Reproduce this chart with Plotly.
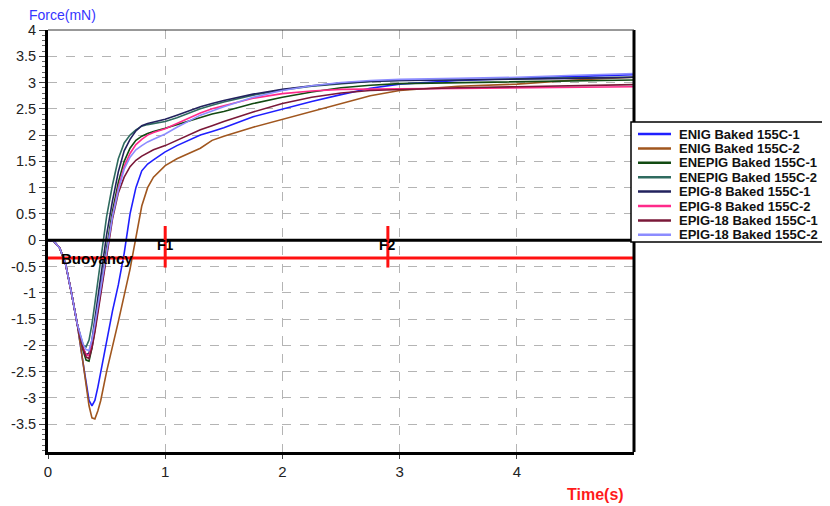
import plotly.graph_objects as go

# ---------------- data ----------------
T = [0, 0.05, 0.1, 0.15, 0.2, 0.25, 0.3, 0.325, 0.35, 0.375, 0.4, 0.425, 0.45,
     0.5, 0.55, 0.6, 0.65, 0.7, 0.75, 0.8, 0.85, 0.9, 1.0, 1.1, 1.2, 1.3, 1.4,
     1.5, 1.75, 2.0, 2.25, 2.5, 2.75, 3.0, 3.5, 4.0, 4.5, 5.0]

enig_1 = [0, -0.02, -0.15, -0.45, -1.0, -1.6, -2.35, -2.75, -3.05, -3.15, -3.05, -2.8, -2.5,
          -1.9, -1.35, -0.85, -0.25, 0.5, 1.0, 1.32, 1.45, 1.53, 1.68, 1.8, 1.9, 2.0, 2.07,
          2.14, 2.35, 2.5, 2.64, 2.77, 2.89, 2.97, 3.04, 3.08, 3.12, 3.15]
enig_2 = [0, -0.02, -0.15, -0.45, -1.0, -1.6, -2.35, -2.8, -3.15, -3.38, -3.4, -3.25, -3.05,
          -2.5, -2.05, -1.55, -1.05, -0.55, 0.05, 0.65, 1.0, 1.2, 1.42, 1.55, 1.65, 1.75, 1.9,
          1.98, 2.15, 2.3, 2.45, 2.6, 2.75, 2.85, 2.93, 2.97, 3.05, 3.1]
enepig_1 = [0, -0.02, -0.15, -0.45, -1.0, -1.6, -2.1, -2.28, -2.3, -2.05, -1.7, -1.3, -0.9,
            -0.15, 0.55, 1.1, 1.5, 1.75, 1.9, 1.98, 2.03, 2.07, 2.13, 2.2, 2.27, 2.34, 2.4,
            2.45, 2.6, 2.72, 2.82, 2.9, 2.95, 2.98, 3.0, 3.02, 3.04, 3.05]
enepig_2 = [0, -0.02, -0.15, -0.45, -1.0, -1.6, -2.0, -2.03, -1.9, -1.6, -1.2, -0.8, -0.4,
            0.45, 1.05, 1.55, 1.85, 2.0, 2.1, 2.17, 2.2, 2.22, 2.26, 2.33, 2.42, 2.5, 2.57,
            2.63, 2.76, 2.86, 2.93, 2.98, 3.02, 3.04, 3.06, 3.08, 3.09, 3.1]
epig8_1 = [0, -0.02, -0.15, -0.45, -1.0, -1.6, -2.05, -2.18, -2.15, -1.9, -1.5, -1.1, -0.7,
           0.1, 0.75, 1.3, 1.7, 1.92, 2.08, 2.18, 2.22, 2.25, 2.3, 2.38, 2.46, 2.54, 2.6,
           2.66, 2.78, 2.87, 2.94, 2.99, 3.02, 3.04, 3.05, 3.06, 3.08, 3.1]
epig8_2 = [0, -0.02, -0.15, -0.45, -1.0, -1.6, -2.05, -2.18, -2.2, -2.0, -1.7, -1.35, -1.0,
           -0.25, 0.45, 1.0, 1.4, 1.65, 1.82, 1.92, 2.0, 2.05, 2.12, 2.22, 2.32, 2.42, 2.5,
           2.56, 2.7, 2.79, 2.84, 2.87, 2.88, 2.88, 2.89, 2.9, 2.91, 2.92]
epig18_1 = [0, -0.02, -0.15, -0.45, -1.0, -1.6, -2.08, -2.22, -2.25, -2.05, -1.75, -1.38, -1.0,
            -0.25, 0.4, 0.9, 1.2, 1.4, 1.52, 1.6, 1.66, 1.72, 1.8, 1.9, 2.0, 2.1, 2.18,
            2.26, 2.44, 2.6, 2.72, 2.8, 2.85, 2.87, 2.9, 2.92, 2.94, 2.96]
epig18_2 = [0, -0.02, -0.15, -0.45, -1.0, -1.6, -1.98, -2.08, -2.1, -1.9, -1.6, -1.25, -0.9,
            -0.2, 0.45, 0.95, 1.35, 1.58, 1.72, 1.8, 1.87, 1.92, 2.02, 2.15, 2.27, 2.38, 2.46,
            2.54, 2.72, 2.85, 2.94, 3.0, 3.04, 3.06, 3.08, 3.1, 3.14, 3.17]

names = ["ENIG Baked 155C-1", "ENIG Baked 155C-2", "ENEPIG Baked 155C-1", "ENEPIG Baked 155C-2",
         "EPIG-8 Baked 155C-1", "EPIG-8 Baked 155C-2", "EPIG-18 Baked 155C-1", "EPIG-18 Baked 155C-2"]
series = [enig_1, enig_2, enepig_1, enepig_2, epig8_1, epig8_2, epig18_1, epig18_2]
colors = ["#1f1fff", "#a0561e", "#124a12", "#2f6b5f", "#22225e", "#ff2a8a", "#7a1838", "#8c8cff"]

y_ticks = [4, 3.5, 3, 2.5, 2, 1.5, 1, 0.5, 0, -0.5, -1, -1.5, -2, -2.5, -3, -3.5]
y_labels = ["4", "3.5", "3", "2.5", "2", "1.5", "1", "0.5", "0", "-0.5", "-1", "-1.5",
            "-2", "-2.5", "-3", "-3.5"]
x_ticks = [0, 1, 2, 3, 4]
x_labels = ["0", "1", "2", "3", "4"]

BUOYANCY = -0.34
markers = [("F1", 1.0), ("F2", 2.9)]

X_MAX = 5.0
Y_MIN, Y_MAX = -4.03, 4.0

# ---------------- layout geometry (screen pixels; page body has an 8px margin) ----------------
OFF = 8
W, H = 830 - OFF, 506 - OFF
L, R, TOP, BOT = 48, 634, 30, 452   # plot area on screen


def px(xp):
    return (xp - L) / (R - L)


def py(yp):
    return (BOT - yp) / (BOT - TOP)


FONT = "Arial, Liberation Sans, sans-serif"

fig = go.Figure()
for nm, ys, c in zip(names, series, colors):
    fig.add_trace(go.Scatter(x=T, y=ys, name=nm, mode="lines",
                             line=dict(color=c, width=1.6), showlegend=False))

shapes = []
annotations = []

# zero line and buoyancy line (above traces)
shapes.append(dict(type="line", xref="x", yref="y", x0=0, x1=X_MAX, y0=0, y1=0,
                   line=dict(color="black", width=3), layer="above"))
shapes.append(dict(type="line", xref="x", yref="y", x0=0, x1=X_MAX, y0=BUOYANCY, y1=BUOYANCY,
                   line=dict(color="#ff1010", width=3), layer="above"))
annotations.append(dict(text="<b>Buoyancy</b>", xref="x", yref="y", x=0.09, y=BUOYANCY,
                        xanchor="left", yanchor="middle", showarrow=False,
                        font=dict(family=FONT, size=15, color="black")))
for lab, xv in markers:
    annotations.append(dict(text="<b>%s</b>" % lab, xref="x", yref="y", x=xv, y=-0.1,
                            xanchor="center", yanchor="middle", showarrow=False,
                            font=dict(family=FONT, size=14, color="black")))
    shapes.append(dict(type="line", xref="x", yref="y", x0=xv, x1=xv, y0=0.27, y1=-0.52,
                       line=dict(color="#ff1010", width=3), layer="above"))

# borders
shapes.append(dict(type="line", xref="paper", yref="paper", x0=1, x1=1, y0=0, y1=1,
                   line=dict(color="black", width=3), layer="above"))
shapes.append(dict(type="line", xref="paper", yref="paper", x0=0, x1=1, y0=1, y1=1,
                   line=dict(color="#333333", width=1), layer="above"))

# manual legend
lx0, lx1, ly0, ly1 = 631, 823, 122, 242
shapes.append(dict(type="rect", xref="paper", yref="paper", x0=px(lx0), x1=px(lx1),
                   y0=py(ly1), y1=py(ly0), line=dict(color="black", width=1.5),
                   fillcolor="white", layer="above"))
row0, step = 134, 14.4
for i, (nm, c) in enumerate(zip(names, colors)):
    yy = row0 + i * step
    shapes.append(dict(type="line", xref="paper", yref="paper", x0=px(638), x1=px(671),
                       y0=py(yy), y1=py(yy), line=dict(color=c, width=2.5), layer="above"))
    annotations.append(dict(text="<b>%s</b>" % nm, xref="paper", yref="paper",
                            x=px(677), y=py(yy), xanchor="left", yanchor="middle",
                            showarrow=False,
                            font=dict(family=FONT, size=13, color="#111111")))

# axis titles
annotations.append(dict(text="Force(mN)", xref="paper", yref="paper", x=px(27), y=py(15.5),
                        xanchor="left", yanchor="middle", showarrow=False,
                        font=dict(family=FONT, size=14, color="#3636ff")))
annotations.append(dict(text="<b>Time(s)</b>", xref="paper", yref="paper", x=px(626), y=py(494),
                        xanchor="right", yanchor="middle", showarrow=False,
                        font=dict(family=FONT, size=16, color="#ff1a1a")))

minor_y = [round(-4.0 + 0.1 * k, 2) for k in range(81)]

fig.update_layout(
    width=W, height=H,
    margin=dict(l=L - OFF, r=W - (R - OFF), t=TOP - OFF, b=H - (BOT - OFF), pad=0,
                autoexpand=False),
    plot_bgcolor="white", paper_bgcolor="white",
    shapes=shapes, annotations=annotations,
    font=dict(family=FONT, size=14, color="#222222"),
    xaxis=dict(range=[0, X_MAX], tickmode="array", tickvals=x_ticks, ticktext=x_labels,
               showgrid=True, gridcolor="#b4b4b4", griddash="dash", gridwidth=1,
               ticks="outside", ticklen=4, tickcolor="#444444", tickwidth=1,
               showline=True, linecolor="black", linewidth=3, zeroline=False,
               automargin=False,
               tickfont=dict(family=FONT, size=15, color="#222222")),
    yaxis=dict(range=[Y_MIN, Y_MAX], tickmode="array", tickvals=y_ticks, ticktext=y_labels,
               showgrid=True, gridcolor="#b4b4b4", griddash="dash", gridwidth=1,
               ticks="outside", ticklen=6, tickcolor="#444444", tickwidth=1,
               showline=True, linecolor="black", linewidth=3, zeroline=False,
               automargin=False,
               minor=dict(tickmode="array", tickvals=minor_y, ticks="outside", ticklen=3,
                          tickcolor="#666666", showgrid=False),
               tickfont=dict(family=FONT, size=14.5, color="#222222")),
)

fig.write_html("out.html")
